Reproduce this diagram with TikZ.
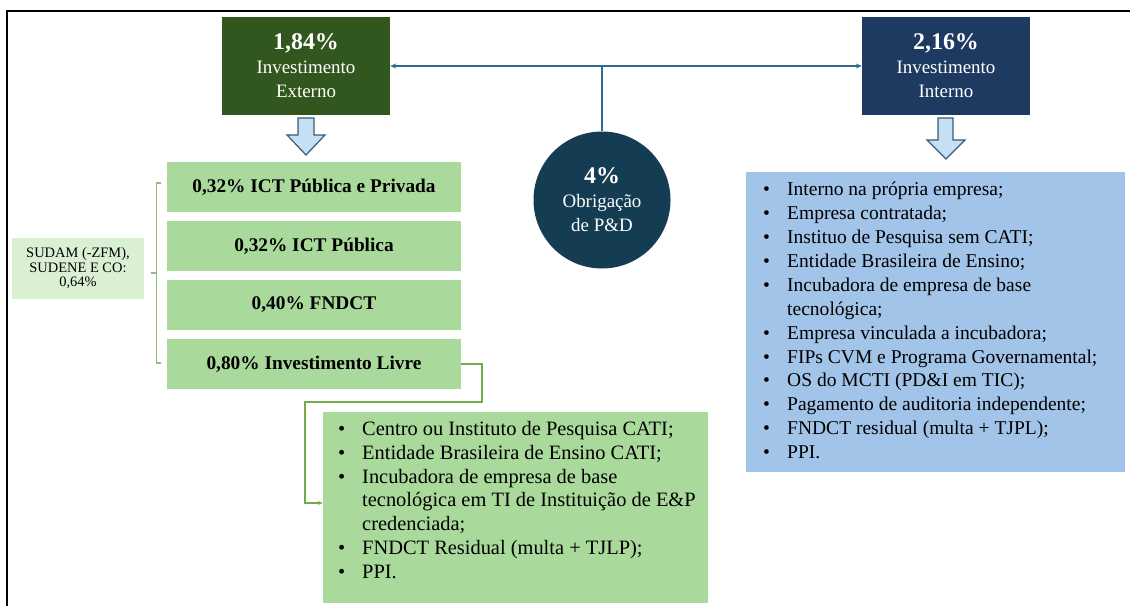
\documentclass[tikz,border=0pt]{standalone}
\usepackage{fontspec}
\setmainfont{Liberation Serif}
\usetikzlibrary{arrows.meta}
\definecolor{extgreen}{RGB}{50,87,30}
\definecolor{intnavy}{RGB}{31,58,96}
\definecolor{circnavy}{RGB}{20,60,82}
\definecolor{linkblue}{RGB}{46,108,143}
\definecolor{boxgreen}{RGB}{170,218,155}
\definecolor{palegreen}{RGB}{218,240,210}
\definecolor{bracegreen}{RGB}{150,185,140}
\definecolor{elbowgreen}{RGB}{112,173,71}
\definecolor{listblue}{RGB}{162,196,232}
\definecolor{arrowfill}{RGB}{197,224,245}
\definecolor{arrowedge}{RGB}{60,90,120}
\newcommand{\bul}{\makebox[24bp][l]{\textbullet}}
\newcommand{\cont}{\hspace*{24bp}}
\tikzset{
  headbox/.style={rectangle, fill=#1, text=white, minimum width=168bp, minimum height=98bp,
    inner sep=0pt, align=center, font=\fontsize{19}{24}\selectfont},
  share/.style={rectangle, fill=boxgreen, minimum width=294bp, minimum height=50bp,
    inner sep=0pt, font=\fontsize{19.4}{24}\selectfont\bfseries},
  link/.style={draw=linkblue, line width=1.4bp},
  bigarrow/.style={draw=arrowedge, fill=arrowfill, line width=1.2bp, line join=miter},
  listtext/.style={anchor=west, align=left, inner sep=0pt, font=\fontsize{#1}{24}\selectfont}
}
\begin{document}
\begin{tikzpicture}[x=1bp,y=-1bp]
\useasboundingbox (0,0) rectangle (1130,606);
\fill[white] (0,0) rectangle (1130,606);
% outer frame (top and left edges)
\draw[line width=2bp] (6.5,606) -- (6.5,11) -- (1130,11);

% header boxes and obligation circle
\node[headbox=extgreen] (ext) at (306,66) {{\fontsize{24}{24}\selectfont\bfseries 1,84\%}\\Investimento\\Externo};
\node[headbox=intnavy] (int) at (946,66) {{\fontsize{24}{24}\selectfont\bfseries 2,16\%}\\Investimento\\Interno};
\node[circle, fill=circnavy, text=white, minimum size=137bp, inner sep=0pt, align=center,
      font=\fontsize{19}{24}\selectfont] (obr) at (602,200)
      {{\fontsize{24}{24}\selectfont\bfseries 4\%}\\Obrigação\\de P\&D};

% splitting connector
\coordinate (split) at (obr.north |- ext.east);
\draw[link] (obr.north) -- (split);
\draw[link,-{Stealth[length=6bp,width=5bp]}] (split) -- (ext.east);
\draw[link,-{Stealth[length=6bp,width=5bp]}] (split) -- (int.west);

% hollow down arrows
\draw[bigarrow] (298,118) -- (314,118) -- (314,135) -- (325,135) -- (306,155)
  -- (287,135) -- (298,135) -- cycle;
\draw[bigarrow] (938,118) -- (953,118) -- (953,140) -- (965,140) -- (946,159)
  -- (927,140) -- (938,140) -- cycle;

% external investment shares
\node[share] (s1) at (314,187) {0,32\% ICT Pública e Privada};
\node[share] (s2) at (314,246) {0,32\% ICT Pública};
\node[share] (s3) at (314,305) {0,40\% FNDCT};
\node[share] (s4) at (314,364) {0,80\% Investimento Livre};

% regional share and its bracket
\node[rectangle, fill=palegreen, minimum width=132bp, minimum height=61bp, inner sep=0pt,
      align=center, font=\fontsize{14.5}{14.5}\selectfont] (sudam) at (78,268.5)
      {SUDAM (-ZFM),\\SUDENE E CO:\\0,64\%};
\coordinate (bt) at (161,183);
\coordinate (bb) at (161,363);
\coordinate (bm) at (156.5,273);
\draw[draw=bracegreen, line width=1.2bp] (bt) -- (156.5,183) -- (156.5,363) -- (bb);
\draw[draw=bracegreen, line width=1.2bp] (bm) -- (151,273);

% free-investment destinations
\node[rectangle, fill=boxgreen, minimum width=385bp, minimum height=191bp, inner sep=0pt]
      (free) at (515.5,507.5) {};
\node[listtext=20.5] (freetext) at (338,500) {%
  \bul Centro ou Instituto de Pesquisa CATI;\\
  \bul Entidade Brasileira de Ensino CATI;\\
  \bul Incubadora de empresa de base\\
  \cont tecnológica em TI de Instituição de E\&P\\
  \cont credenciada;\\
  \bul FNDCT Residual (multa + TJLP);\\
  \bul PPI.};
\coordinate (e1) at (482,402);
\coordinate (e2) at (305,402);
\draw[draw=elbowgreen, line width=1.1bp, -{Stealth[length=5bp,width=4bp]}]
  (s4.east) -| (e1) -- (e2) |- (free.west |- 0,503);

% internal investment destinations
\node[rectangle, fill=listblue, minimum width=379bp, minimum height=300bp, inner sep=0pt]
      (inner) at (935.5,322) {};
\node[listtext=19.6] (innertext) at (763,320.5) {%
  \bul Interno na própria empresa;\\
  \bul Empresa contratada;\\
  \bul Instituo de Pesquisa sem CATI;\\
  \bul Entidade Brasileira de Ensino;\\
  \bul Incubadora de empresa de base\\
  \cont tecnológica;\\
  \bul Empresa vinculada a incubadora;\\
  \bul FIPs CVM e Programa Governamental;\\
  \bul OS do MCTI (PD\&I em TIC);\\
  \bul Pagamento de auditoria independente;\\
  \bul FNDCT residual (multa + TJPL);\\
  \bul PPI.};
\end{tikzpicture}
\end{document}
